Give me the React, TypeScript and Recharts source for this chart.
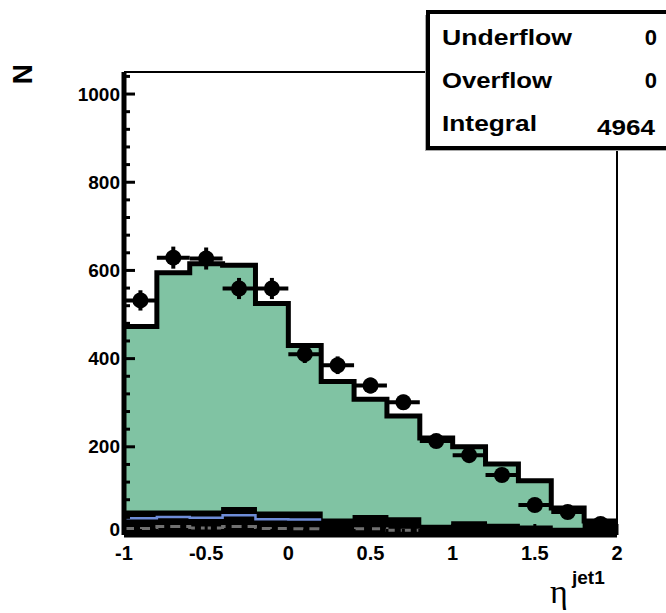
import { ComposedChart, Area, Line, Scatter, XAxis, YAxis, ErrorBar, ReferenceLine } from "recharts";

// eta(jet1) histogram, 15 bins of width 0.2 between -1 and 2
const binEdges = [-1, -0.8, -0.6, -0.4, -0.2, 0, 0.2, 0.4, 0.6, 0.8, 1, 1.2, 1.4, 1.6, 1.8, 2];
const dataCounts = [532, 629, 627, 559, 559, 410, 385, 339, 301, 213, 181, 136, 68, 52, 25];
const dataErrors = [23, 25, 25, 24, 24, 20, 20, 18, 17, 15, 13, 12, 8, 7, 5];
const mcTotal = [473, 595, 615, 612, 525, 430, 348, 308, 270, 220, 200, 161, 123, 61, 32];
const bkgBlack = [52, 52, 52, 60, 50, 50, 34, 42, 37, 20, 28, 22, 18, 13, 28];
const bkgBlue = [38, 41, 39, 45, 36, 35, null, null, null, null, null, null, null, null, null];
const bkgGray = [15, 19, 16, 19, 15, 14, null, 14, 11, null, null, null, null, null, null];

const xTickLabels = [-1, -0.5, 0, 0.5, 1, 1.5, 2];
const yTickLabels = [0, 200, 400, 600, 800, 1000];
const stats = [
  ["Underflow", "0"],
  ["Overflow", "0"],
  ["Integral", "4964"],
];

// minor ticks, ROOT style (5 subdivisions)
const xTicks = Array.from({ length: 31 }, (_, i) => Math.round(-10 + i) / 10);
const yTicks = Array.from({ length: 27 }, (_, i) => i * 40);

// two rows per bin so the series draw as histogram steps
const stepRows = mcTotal.flatMap((v, i) =>
  [binEdges[i], binEdges[i + 1]].map((x) => ({
    x,
    total: v,
    black: bkgBlack[i],
    blue: bkgBlue[i],
    gray: bkgGray[i],
  }))
);

const points = dataCounts.map((y, i) => ({
  x: (binEdges[i] + binEdges[i + 1]) / 2,
  y,
  ex: (binEdges[i + 1] - binEdges[i]) / 2,
  ey: dataErrors[i],
}));

const FONT = "'Liberation Sans', Arial, Helvetica, sans-serif";

const YTick = (props: any) => {
  const { x, y, payload } = props;
  const major = yTickLabels.includes(payload.value);
  // the zero label sits a little higher so it clears the "-1" below it
  const ly = payload.value === 0 ? y - 6 : y;
  return (
    <g>
      <line x1={x} x2={x + (major ? 11 : 6)} y1={y} y2={y} stroke="#000" strokeWidth={3} />
      {major && (
        <text x={x - 4} y={ly} textAnchor="end" dominantBaseline="central" fontFamily={FONT} fontWeight="bold" fontSize={19} fill="#000">
          {payload.value}
        </text>
      )}
    </g>
  );
};

const XTick = (props: any) => {
  const { x, y, payload } = props;
  const major = xTickLabels.includes(payload.value);
  return (
    <g>
      <line x1={x} x2={x} y1={y} y2={y - (major ? 11 : 6)} stroke="#000" strokeWidth={3} />
      {major && (
        <text x={x} y={y + 18} textAnchor="middle" dominantBaseline="central" fontFamily={FONT} fontWeight="bold" fontSize={20} fill="#000">
          {String(payload.value)}
        </text>
      )}
    </g>
  );
};

const Dot = (props: any) => <circle cx={props.cx} cy={props.cy} r={8} fill="#000" />;

const StatsBox = () => (
  <svg width={666} height={613} style={{ position: "absolute", left: 0, top: 0, pointerEvents: "none" }}>
    <rect x={425} y={15} width={260} height={136} fill="#aaa" />
    <rect x={428} y={12} width={260} height={136} fill="#fff" stroke="#000" strokeWidth={4} />
    {stats.map(([name, val], i) => (
      <g key={name}>
        <text x={442} y={45 + i * 43} fontFamily={FONT} fontWeight="bold" fontSize={22} fill="#000" textLength={[130, 110, 95][i]} lengthAdjust="spacingAndGlyphs">
          {name}
        </text>
        <text
          x={i === 2 ? 597 : 657}
          y={45 + i * 43 + (i === 2 ? 4 : 0)}
          textAnchor={i === 2 ? "start" : "end"}
          fontFamily={FONT}
          fontWeight="bold"
          fontSize={22}
          fill="#000"
          {...(i === 2 ? { textLength: 58, lengthAdjust: "spacingAndGlyphs" } : {})}
        >
          {val}
        </text>
      </g>
    ))}
    <text x={22} y={74} transform="rotate(-90 22 74)" textAnchor="middle" dominantBaseline="central" fontFamily={FONT} fontWeight="bold" fontSize={28} fill="#000">
      N
    </text>
    <text x={550} y={603} fontFamily="'Liberation Serif', 'DejaVu Serif', serif" fontSize={34} fill="#000">
      η
    </text>
    <text x={572} y={584} fontFamily={FONT} fontWeight="bold" fontSize={19} fill="#000">
      jet1
    </text>
  </svg>
);

export default function App() {
  return (
    <div style={{ position: "absolute", left: 0, top: 0, width: 666, height: 613, background: "#fff" }}>
      <ComposedChart width={666} height={613} data={stepRows} margin={{ top: 72, right: 49, bottom: 0, left: 0 }}>
        <Area
          type="linear"
          dataKey="total"
          fill="#80c3a3"
          fillOpacity={1}
          stroke="#000"
          strokeWidth={5}
          isAnimationActive={false}
        />
        <Area
          type="linear"
          dataKey="black"
          fill="#000"
          fillOpacity={1}
          stroke="#000"
          strokeWidth={3}
          isAnimationActive={false}
        />
        <Line type="linear" dataKey="blue" stroke="#6e8cd7" strokeWidth={2.5} dot={false} isAnimationActive={false} />
        <Line
          type="linear"
          dataKey="gray"
          stroke="#707070"
          strokeWidth={3}
          strokeDasharray="10 6"
          dot={false}
          isAnimationActive={false}
        />
        <Scatter data={points} dataKey="y" shape={<Dot />} isAnimationActive={false}>
          <ErrorBar dataKey="ey" direction="y" width={0} stroke="#000" strokeWidth={4} isAnimationActive={false} />
          <ErrorBar dataKey="ex" direction="x" width={0} stroke="#000" strokeWidth={4} isAnimationActive={false} />
        </Scatter>
        <ReferenceLine y={1050} stroke="#000" strokeWidth={2} />
        <ReferenceLine x={2} stroke="#000" strokeWidth={2} />
        <XAxis
          type="number"
          dataKey="x"
          domain={[-1, 2]}
          ticks={xTicks}
          interval={0}
          height={78}
          tickSize={0}
          tickMargin={0}
          tick={<XTick />}
          axisLine={{ stroke: "#000", strokeWidth: 5 }}
        />
        <YAxis
          type="number"
          domain={[0, 1050]}
          ticks={yTicks}
          interval={0}
          width={124}
          tickSize={0}
          tickMargin={0}
          tick={<YTick />}
          axisLine={{ stroke: "#000", strokeWidth: 5 }}
        />
      </ComposedChart>
      <StatsBox />
    </div>
  );
}
